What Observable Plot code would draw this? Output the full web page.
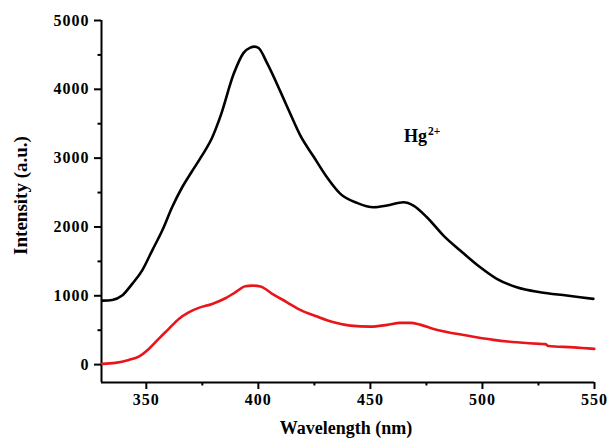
<!DOCTYPE html>
<html>
<head>
<meta charset="utf-8">
<script src="https://cdn.jsdelivr.net/npm/d3@7"></script>
<script src="https://cdn.jsdelivr.net/npm/@observablehq/plot@0.6"></script>
<style>
  html, body { margin: 0; padding: 0; background: #fff; }
  #chart svg { display: block; }
  #chart g[aria-label$="tick label"] text { letter-spacing: 1px; }
</style>
</head>
<body>
<div id="chart"></div>
<script>
// Emission spectra: wavelength (nm) vs intensity (a.u.)
const blackWavelength = [330.3, 334.8, 339.2, 343.7, 348.1, 352.6, 357.1, 361.5, 366.0, 370.4, 374.9, 379.4, 383.1, 389.0, 393.4, 396.4, 398.3, 400.1, 403.9, 409.8, 414.3, 418.7, 424.7, 430.6, 436.6, 444.0, 451.4, 457.4, 464.8, 469.2, 475.2, 482.6, 490.1, 499.0, 506.4, 515.3, 525.7, 537.6, 549.5];
const blackIntensity  = [930, 940, 1003, 1173, 1366, 1657, 1948, 2286, 2577, 2810, 3040, 3300, 3610, 4225, 4530, 4605, 4620, 4600, 4380, 3970, 3640, 3330, 3020, 2722, 2481, 2350, 2286, 2311, 2359, 2311, 2141, 1875, 1657, 1414, 1246, 1124, 1051, 1003, 955];

const redWavelength = [330.3, 336.2, 342.2, 346.6, 351.1, 355.5, 360.0, 364.5, 368.9, 373.4, 379.4, 385.3, 389.7, 394.2, 397.2, 400.9, 406.8, 412.8, 418.7, 426.2, 433.6, 441.0, 449.9, 457.4, 463.3, 467.8, 472.2, 478.2, 493.0, 504.9, 515.3, 525.7, 528.0, 529.4, 540.6, 549.9];
const redIntensity  = [10, 25, 68, 116, 228, 374, 519, 664, 760, 824, 882, 964, 1051, 1138, 1148, 1134, 1017, 906, 795, 698, 615, 567, 552, 577, 606, 606, 581, 519, 422, 359, 324, 301, 298, 270, 251, 228];

const xMajorTicks = [350, 400, 450, 500, 550];
const xMinorTicks = [375, 425, 475, 525];
const yMajorTicks = [0, 1000, 2000, 3000, 4000, 5000];
const yMinorTicks = [500, 1500, 2500, 3500, 4500];

const xTitle = "Wavelength (nm)";
const yTitle = "Intensity (a.u.)";
const ionName = "Hg";
const ionCharge = "2+";
const ionPosition = [465, 3240];

const blackSeries = blackWavelength.map((x, i) => ({x, y: blackIntensity[i]}));
const redSeries = redWavelength.map((x, i) => ({x, y: redIntensity[i]}));

const xDomain = [330, 550];
const yDomain = [-260, 5000];
const serif = "'Liberation Serif', 'Times New Roman', Times, serif";

const chart = Plot.plot({
  width: 608,
  height: 448,
  marginLeft: 101,
  marginRight: 14,
  marginTop: 20,
  marginBottom: 66,
  style: {fontFamily: serif, fontWeight: "bold", fontSize: "16px", background: "#fff", color: "#000"},
  x: {domain: xDomain, axis: null},
  y: {domain: yDomain, axis: null},
  marks: [
    // minor ticks
    Plot.axisX(xMinorTicks, {anchor: "bottom", tickSize: 3.5, strokeWidth: 2, text: null, label: null}),
    Plot.axisY(yMinorTicks, {anchor: "left", tickSize: 3.5, strokeWidth: 2, text: null, label: null}),
    // major ticks with labels
    Plot.axisX(xMajorTicks, {anchor: "bottom", tickSize: 7, tickPadding: 4, strokeWidth: 2, label: null,
      fontSize: 16, fontWeight: "bold", fontFamily: serif, tickFormat: d => String(d)}),
    Plot.axisY(yMajorTicks, {anchor: "left", tickSize: 7, tickPadding: 5, strokeWidth: 2, label: null,
      fontSize: 16, fontWeight: "bold", fontFamily: serif, tickFormat: d => String(d)}),
    // axis lines
    Plot.ruleX([xDomain[0]], {y1: yDomain[0], y2: yDomain[1], strokeWidth: 2, stroke: "#000"}),
    Plot.ruleY([yDomain[0]], {x1: xDomain[0], x2: xDomain[1], strokeWidth: 2, stroke: "#000"}),
    // spectra
    Plot.line(redSeries, {x: "x", y: "y", stroke: "#e8161b", strokeWidth: 2.6, curve: "monotone-x"}),
    Plot.line(blackSeries, {x: "x", y: "y", stroke: "#000", strokeWidth: 2.6, curve: "monotone-x"}),
    // ion annotation
    Plot.text([ionName], {x: () => ionPosition[0], y: () => ionPosition[1], text: d => d, textAnchor: "start",
      lineAnchor: "bottom", fontSize: 18, fontWeight: "bold", fontFamily: serif, fill: "#000"}),
    Plot.text([ionCharge], {x: () => ionPosition[0], y: () => ionPosition[1], text: d => d, textAnchor: "start",
      lineAnchor: "bottom", dx: 24, dy: -7, fontSize: 11.5, fontWeight: "bold", fontFamily: serif, fill: "#000"}),
    // axis titles
    Plot.text([yTitle], {frameAnchor: "left", text: d => d, textAnchor: "middle", dx: -81, dy: -6, rotate: -90,
      fontSize: 19, fontWeight: "bold", fontFamily: serif, fill: "#000"}),
    Plot.text([xTitle], {frameAnchor: "bottom", text: d => d, textAnchor: "middle", dx: -2, dy: 51, fontSize: 18,
      fontWeight: "bold", fontFamily: serif, fill: "#000"})
  ]
});

document.getElementById("chart").appendChild(chart);
</script>
</body>
</html>
